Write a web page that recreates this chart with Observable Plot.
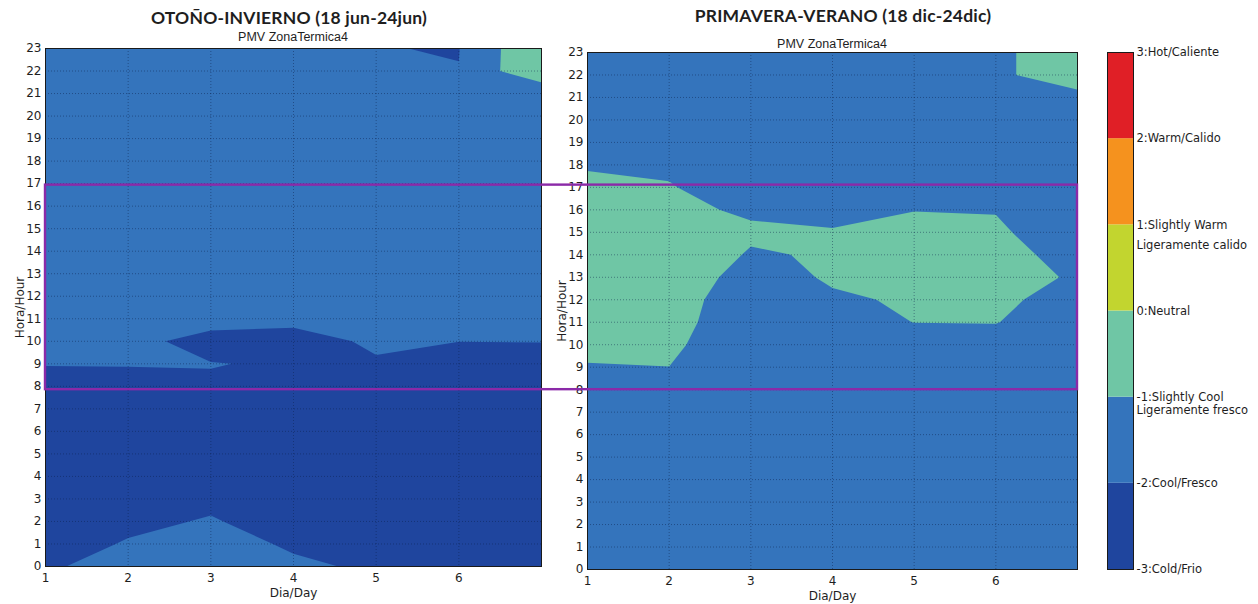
<!DOCTYPE html>
<html><head><meta charset="utf-8">
<script src="https://cdn.jsdelivr.net/npm/d3@7"></script>
<script src="https://cdn.jsdelivr.net/npm/@observablehq/plot@0.6"></script>
<style>
body{margin:0;background:#fff;width:1258px;height:604px;position:relative;overflow:hidden;font-family:"DejaVu Sans",sans-serif}
.layer{position:absolute;left:0;top:0}
.t{position:absolute;white-space:nowrap;transform:translateX(-50%);color:#1e1e1e}
.title{font-family:Lato,"Open Sans",sans-serif;font-weight:bold;font-size:17.5px;letter-spacing:0.2px}
.sub{font-family:"Liberation Sans",sans-serif;font-size:12.5px}
</style></head><body>
<div class="t title" style="left:289px;top:7px">OTOÑO-INVIERNO (18 jun-24jun)</div>
<div class="t sub" style="left:293px;top:30px">PMV ZonaTermica4</div>
<div class="t title" style="left:843px;top:5px">PRIMAVERA-VERANO (18 dic-24dic)</div>
<div class="t sub" style="left:832px;top:37px">PMV ZonaTermica4</div>
<div id="left" class="layer"></div>
<div id="right" class="layer"></div>
<div id="bar" class="layer" style="left:1100px"></div>
<script>
// ---- categories / ticks ----
const days = [1, 2, 3, 4, 5, 6, 7];
const hours = [0,1,2,3,4,5,6,7,8,9,10,11,12,13,14,15,16,17,18,19,20,21,22,23];
const dayTicks = [1, 2, 3, 4, 5, 6];
const pmvLevels = [-3, -2, -1, 0, 1, 2, 3];
const bandColors = ["#1f459e", "#3474bc", "#6fc6a5", "#c2d52f", "#f5921e", "#e01f26"];
const legendLabels = ["-3:Cold/Frio", "-2:Cool/Fresco", "-1:Slightly Cool", "0:Neutral", "1:Slightly Warm", "2:Warm/Calido", "3:Hot/Caliente"];
const legendSubLabels = ["Ligeramente fresco", "Ligeramente calido"];
const legendSubLevels = [-1, 1];
const highlightHours = [8, 17.1];

// ---- PMV values, one array per day (hours 0..23) ----
// OTOÑO-INVIERNO (18 jun-24jun)
const otonoDay1 = [-2.1,-2.28,-2.5,-2.5,-2.5,-2.5,-2.5,-2.5,-2.9,-1.9,-1.5,-1.5,-1.5,-1.5,-1.5,-1.5,-1.5,-1.5,-1.5,-1.5,-1.5,-1.5,-1.5,-1.5];
const otonoDay2 = [-1.7,-1.95,-2.14,-2.5,-2.5,-2.5,-2.5,-2.5,-2.67,-1.9,-1.81,-1.5,-1.5,-1.5,-1.5,-1.5,-1.5,-1.5,-1.5,-1.5,-1.5,-1.5,-1.5,-1.5];
const otonoDay3 = [-1.6,-1.7,-1.95,-2.14,-2.5,-2.5,-2.5,-2.5,-2.07,-1.98,-2.23,-1.75,-1.5,-1.5,-1.5,-1.5,-1.5,-1.5,-1.5,-1.5,-1.5,-1.5,-1.5,-1.5];
const otonoDay4 = [-1.87,-2.1,-2.28,-2.5,-2.5,-2.5,-2.5,-2.5,-2.5,-2.06,-2.6,-1.6,-1.5,-1.5,-1.5,-1.5,-1.5,-1.5,-1.5,-1.5,-1.5,-1.5,-1.5,-1.5];
const otonoDay5 = [-2.11,-2.5,-2.5,-2.5,-2.5,-2.5,-2.5,-2.5,-2.5,-2.16,-1.755,-1.5,-1.5,-1.5,-1.5,-1.5,-1.5,-1.5,-1.5,-1.5,-1.5,-1.5,-1.5,-1.987];
const otonoDay6 = [-2.5,-2.5,-2.5,-2.5,-2.5,-2.5,-2.5,-2.5,-2.5,-2.49,-1.99,-1.5,-1.5,-1.5,-1.5,-1.5,-1.5,-1.5,-1.5,-1.5,-1.5,-1.5,-1.985,-2.02];
const otonoDay7 = [-2.5,-2.5,-2.5,-2.5,-2.5,-2.5,-2.5,-2.5,-2.5,-2.16,-1.99,-1.5,-1.5,-1.5,-1.5,-1.5,-1.5,-1.5,-1.5,-1.5,-1.5,-1.985,-0.015,-0.02];
// PRIMAVERA-VERANO (18 dic-24dic)
const primaDay1 = [-1.5,-1.5,-1.5,-1.5,-1.5,-1.5,-1.5,-1.5,-1.5,-1.12,-0.52,-0.5,-0.5,-0.5,-0.5,-0.5,-0.5,-0.5,-1.19,-1.5,-1.5,-1.5,-1.5,-1.5];
const primaDay2 = [-1.5,-1.5,-1.5,-1.5,-1.5,-1.5,-1.5,-1.5,-1.5,-1.005,-0.867,-0.731,-0.623,-0.218,-0.6,-0.5,-0.88,-0.95,-1.135,-1.5,-1.5,-1.5,-1.5,-1.5];
const primaDay3 = [-1.5,-1.5,-1.5,-1.5,-1.5,-1.5,-1.5,-1.5,-1.5,-1.5,-1.5,-1.5,-1.5,-1.5,-1.05,-0.915,-1.075,-1.45,-1.5,-1.5,-1.5,-1.5,-1.5,-1.5];
const primaDay4 = [-1.5,-1.5,-1.5,-1.5,-1.5,-1.5,-1.5,-1.5,-1.5,-1.5,-1.5,-1.32,-1.144,-0.867,-0.948,-0.9,-1.43,-1.5,-1.5,-1.5,-1.5,-1.5,-1.5,-1.5];
const primaDay5 = [-1.5,-1.5,-1.5,-1.5,-1.5,-1.5,-1.5,-1.5,-1.5,-1.5,-1.49,-0.99,-0.877,-0.5,-0.5,-0.34,-1.05,-1.5,-1.5,-1.5,-1.5,-1.5,-1.5,-1.5];
const primaDay6 = [-1.5,-1.5,-1.5,-1.5,-1.5,-1.5,-1.5,-1.5,-1.5,-1.5,-1.27,-0.98,-0.7,-0.3,-0.5,-0.823,-1.05,-1.5,-1.5,-1.5,-1.5,-1.5,-1.15,-1.15];
const primaDay7 = [-1.5,-1.5,-1.5,-1.5,-1.5,-1.5,-1.5,-1.5,-1.5,-1.5,-1.5,-1.38,-1.58,-1.2,-1.52,-1.71,-1.5,-1.5,-1.5,-1.5,-1.5,-1.242,-0.55,-0.55];

const otono = [otonoDay1, otonoDay2, otonoDay3, otonoDay4, otonoDay5, otonoDay6, otonoDay7];
const prima = [primaDay1, primaDay2, primaDay3, primaDay4, primaDay5, primaDay6, primaDay7];

// row-major grid: row = hour, column = day
const toGrid = cols => hours.flatMap(h => days.map((d, i) => cols[i][h]));

const colorScale = {type: "ordinal", domain: pmvLevels.slice(0, 6), range: bandColors};
const font = {fontFamily: "DejaVu Sans, sans-serif", fontSize: "12px", color: "#1e1e1e", background: "transparent", overflow: "visible"};

function panel(values, opts) {
  const gridMarks = [
    Plot.ruleX(dayTicks.slice(1), {stroke: "#0b1e4a", strokeOpacity: 0.45, strokeDasharray: "1,2"}),
    Plot.ruleY(hours.slice(1, 23), {stroke: "#0b1e4a", strokeOpacity: 0.45, strokeDasharray: "1,2"})
  ];
  return Plot.plot({
    width: opts.width, height: 604,
    marginLeft: opts.left, marginRight: opts.width - opts.right,
    marginTop: opts.top, marginBottom: 604 - opts.bottom,
    style: font,
    color: colorScale,
    x: {domain: [1, 7], ticks: dayTicks, tickFormat: "d", tickSize: 0, tickPadding: 7, label: "Dia/Day", labelAnchor: "center", labelOffset: 30, labelArrow: "none"},
    y: {domain: [0, 23], ticks: hours, tickFormat: "d", tickSize: 0, tickPadding: 4, label: "Hora/Hour", labelAnchor: "center", labelOffset: 30, labelArrow: "none"},
    marks: [
      Plot.contour(toGrid(values), {
        width: days.length, height: hours.length,
        x1: 0.5, x2: 7.5, y1: -0.5, y2: 23.5,
        fill: Plot.identity, thresholds: pmvLevels.slice(0, 6),
        stroke: "none", clip: true
      }),
      ...gridMarks,
      Plot.frame({stroke: "#1a1a1a", strokeWidth: 1}),
      ...(opts.extra || [])
    ]
  });
}

document.getElementById("left").append(panel(otono, {width: 560, left: 45, right: 541, top: 48, bottom: 566}));
document.getElementById("right").append(panel(prima, {width: 1100, left: 587, right: 1077, top: 52, bottom: 569,
  extra: [Plot.rect([highlightHours], {x1: 1, x2: 7, y1: d => d[0], y2: d => d[1], insetLeft: -542,
    fill: "none", stroke: "#8b2aa8", strokeWidth: 2.4})]}));

// colour bar
const bar = Plot.plot({
  width: 158, height: 604,
  marginLeft: 7, marginRight: 125, marginTop: 52, marginBottom: 35,
  style: font,
  color: colorScale,
  x: {domain: [0, 1], axis: null},
  y: {domain: [-3, 3], axis: null},
  marks: [
    Plot.rect(pmvLevels.slice(0, 6), {x1: 0, x2: 1, y1: d => d, y2: d => d + 1, fill: d => d}),
    Plot.frame({stroke: "#1a1a1a"}),
    Plot.text(pmvLevels, {x: 1, y: d => d, text: (d, i) => legendLabels[i], textAnchor: "start", dx: 3, fontSize: 11.5}),
    Plot.text([legendSubLevels[0]], {x: 1, y: d => d, text: () => legendSubLabels[0], textAnchor: "start", dx: 3, dy: 13, fontSize: 11.5}),
    Plot.text([legendSubLevels[1]], {x: 1, y: d => d, text: () => legendSubLabels[1], textAnchor: "start", dx: 3, dy: 20, fontSize: 11.5})
  ]
});
document.getElementById("bar").append(bar);
</script>
</body></html>
